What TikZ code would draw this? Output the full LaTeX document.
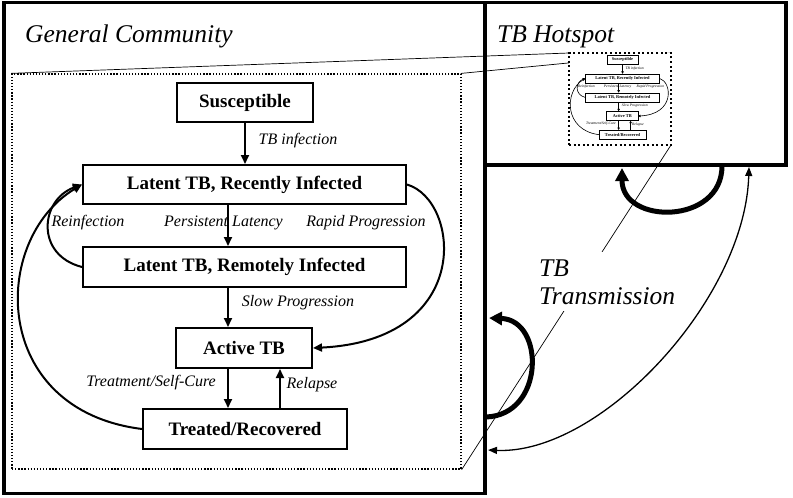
\documentclass[tikz,border=0pt]{standalone}
\usepackage{fontspec}
\setmainfont{Liberation Serif}
\usetikzlibrary{arrows.meta}
\tikzset{
  outerbox/.style={draw, line width=3.5pt, inner sep=0pt},
  dotbox/.style={draw, line width=1.3pt, dash pattern=on 1.3pt off 1.8pt, inner sep=0pt},
  minidot/.style={draw, fill=white, line width=2pt, dash pattern=on 2pt off 2.6pt, inner sep=0pt},
  zoomline/.style={line width=0.7pt},
  fbox/.style={draw, line width=2pt, inner sep=0pt, fill=white, font=\fontsize{19}{21}\selectfont\bfseries},
  farr/.style={line width=2pt, -{Triangle[length=9pt,width=8pt]}},
  flab/.style={font=\fontsize{16}{18}\selectfont\itshape, inner sep=0pt, anchor=base},
  title/.style={font=\fontsize{25.5}{28}\selectfont\itshape, inner sep=0pt, anchor=base west},
  thickarr/.style={line width=5pt, -{Triangle[length=13pt,width=13pt]}},
  thinarr/.style={line width=1.3pt, {Triangle[length=9pt,width=7pt]}-{Triangle[length=9pt,width=7pt]}},
}
\newcommand\flowchart[1]{%
  \coordinate (#1c1) at (228,0);
  \coordinate (#1c2) at (280,0);
  \node[fbox, minimum width=136pt, minimum height=39pt] (#1s) at (245,102.5) {Susceptible};
  \node[fbox, minimum width=323pt, minimum height=39pt] (#1l1) at (244.5,184.5) {Latent TB, Recently Infected};
  \node[fbox, minimum width=323pt, minimum height=40pt] (#1l2) at (244.5,267) {Latent TB, Remotely Infected};
  \node[fbox, minimum width=136pt, minimum height=40pt] (#1a) at (244,348) {Active TB};
  \node[fbox, minimum width=204pt, minimum height=40pt] (#1t) at (245,429) {Treated/Recovered};
  \node[flab] at (298,144) {TB infection};
  \node[flab] at (88,226) {Reinfection};
  \node[flab] at (223.5,226) {Persistent Latency};
  \node[flab] at (366,226) {Rapid Progression};
  \node[flab] at (298,306.5) {Slow Progression};
  \node[flab] at (151,386) {Treatment/Self-Cure};
  \node[flab] at (312,388) {Relapse};
  \draw[farr] (#1s.south) -- (#1s.south |- #1l1.north);
  \draw[farr] (#1l1.south -| #1c1) -- (#1l2.north -| #1c1);
  \draw[farr] (#1l2.south -| #1c1) -- (#1a.north -| #1c1);
  \draw[farr] (#1a.south -| #1c1) -- (#1t.north -| #1c1);
  \draw[farr] (#1t.north -| #1c2) -- (#1a.south -| #1c2);
  \draw[farr] (#1l1.east) .. controls (460,200) and (475,340) .. (#1a.east);
  \draw[farr] (#1l2.west) .. controls (35,255) and (40,200) .. (#1l1.west);
  \draw[farr] (#1t.west) .. controls (-10,410) and (-10,240) .. (#1l1.west);
}
\begin{document}
\begin{tikzpicture}[x=1pt,y=-1pt]
  \useasboundingbox (0,0) rectangle (793,498);
  % outer boxes
  \node[outerbox, minimum width=481pt, minimum height=491pt] (gc) at (244.5,248) {};
  \node[outerbox, minimum width=301pt, minimum height=162.5pt] (hs) at (635.5,83.75) {};
  \node[title] (gct) at (25,42) {General Community};
  \node[title] (hst) at (497,42) {TB Hotspot};
  % dotted box in general community
  \node[dotbox, minimum width=449pt, minimum height=395pt] (gcd) at (236.5,271.5) {};
  % zoom lines
  \draw[zoomline] (gcd.north west) -- (569,53) coordinate (hsdnw);
  \draw[zoomline] (gcd.north east) -- (671,53) coordinate (hsdne);
  \draw[zoomline] (gcd.south east) -- (671,145) coordinate (hsdse);
  % mini copy in the hotspot
  \node[minidot, minimum width=102pt, minimum height=92pt] (hsd) at (620,99) {};
  \begin{scope}[shift={(566.2,36)}, scale=0.23, transform shape]
    \tikzset{fbox/.append style={line width=0.6pt},
             farr/.style={line width=0.6pt, -{Triangle[length=2.5pt,width=2.5pt]}}}
    \flowchart{m}
  \end{scope}
  % main flowchart
  \flowchart{g}
  % transmission arrows
  \coordinate (gcA) at (486,417);
  \coordinate (gcB) at (489,318);
  \coordinate (gcC) at (488,450);
  \coordinate (hsA) at (722,166);
  \coordinate (hsB) at (622,168);
  \coordinate (hsC) at (749,167);
  \draw[thickarr] (gcA) .. controls (545,415) and (545,320) .. (gcB);
  \draw[thickarr] (hsA) .. controls (722,225) and (622,225) .. (hsB);
  \draw[thinarr] (hsC) .. controls (745,300) and (600,455) .. (gcC);
  \node[fill=white, align=left, font=\fontsize{25.5}{28}\selectfont\itshape, inner sep=7pt, anchor=base west] (tbt) at (532,304) {TB\\Transmission};
\end{tikzpicture}
\end{document}
